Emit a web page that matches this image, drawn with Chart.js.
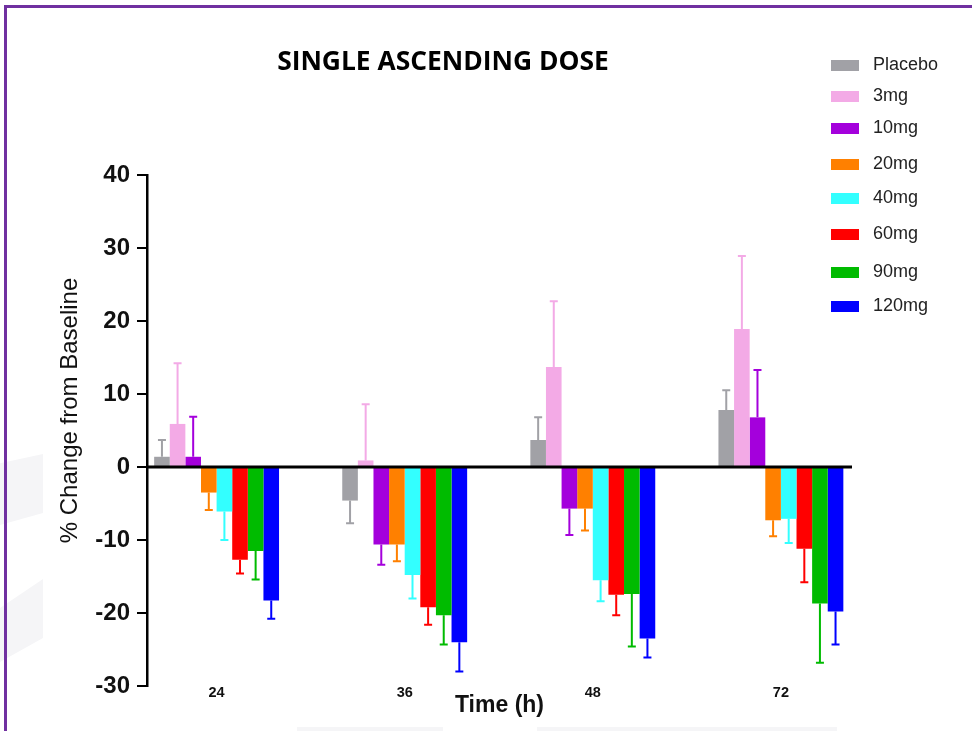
<!DOCTYPE html>
<html>
<head>
<meta charset="utf-8">
<script src="https://cdn.jsdelivr.net/npm/chart.js@4.4.1/dist/chart.umd.min.js"></script>
<style>
body{margin:0;background:#fff;}
#wrap{position:relative;width:972px;height:731px;overflow:hidden;}
#frame{position:absolute;left:4px;top:5px;right:-10px;bottom:-10px;border-top:3px solid #7030a0;border-left:3px solid #7030a0;}
.mark{position:absolute;background:#f5f5f7;}
#title{position:absolute;left:243px;width:400px;top:42px;text-align:center;font:700 26.4px "Open Sans";color:#000;}
#legend{position:absolute;left:831px;top:60px;}
.item{position:absolute;left:0;height:20px;white-space:nowrap;}
.box{position:absolute;left:0;top:0;width:28px;height:11px;}
.lbl{position:absolute;left:42px;top:-6px;font:18px "Liberation Sans";color:#222;}
canvas{position:absolute;left:0;top:0;}
</style>
</head>
<body>
<div id="wrap">
<div class="mark" style="left:0;top:454px;width:43px;height:71px;clip-path:polygon(0 13%,100% 0,100% 83%,0 100%)"></div>
<div class="mark" style="left:0;top:579px;width:43px;height:83px;clip-path:polygon(0 35%,100% 0,100% 71%,0 100%)"></div>
<div class="mark" style="left:297px;top:727px;width:146px;height:6px"></div>
<div class="mark" style="left:537px;top:727px;width:300px;height:6px"></div>
<canvas id="sadChart" width="972" height="731"></canvas>
<div id="frame"></div>
<div id="title">SINGLE ASCENDING DOSE</div>
<div id="legend"></div>
</div>
<script>
const timeLabels = ["24", "36", "48", "72"];
const doseLabels = ["Placebo", "3mg", "10mg", "20mg", "40mg", "60mg", "90mg", "120mg"];
const doseColors = ["#a1a1a6", "#f3aae6", "#a400dc", "#ff8000", "#33ffff", "#ff0000", "#00bb00", "#0000ff"];

// mean % change from baseline, per dose, at 24/36/48/72 h
const placebo = [1.4, -4.6, 3.7, 7.8];
const mg3 = [5.9, 0.9, 13.7, 18.9];
const mg10 = [1.4, -10.6, -5.7, 6.8];
const mg20 = [-3.5, -10.6, -5.7, -7.3];
const mg40 = [-6.1, -14.8, -15.5, -7.1];
const mg60 = [-12.7, -19.2, -17.5, -11.2];
const mg90 = [-11.5, -20.3, -17.4, -18.7];
const mg120 = [-18.3, -24.0, -23.5, -19.8];

// error bar size (one sided, away from zero)
const placeboSd = [2.3, 3.1, 3.1, 2.7];
const mg3Sd = [8.3, 7.7, 9.0, 10.0];
const mg10Sd = [5.5, 2.8, 3.6, 6.5];
const mg20Sd = [2.4, 2.3, 3.0, 2.2];
const mg40Sd = [3.9, 3.2, 2.9, 3.3];
const mg60Sd = [1.9, 2.4, 2.8, 4.6];
const mg90Sd = [3.9, 4.0, 7.2, 8.1];
const mg120Sd = [2.5, 4.0, 2.6, 4.5];

const yTicks = [-30, -20, -10, 0, 10, 20, 30, 40];

const means = [placebo, mg3, mg10, mg20, mg40, mg60, mg90, mg120];
const sds = [placeboSd, mg3Sd, mg10Sd, mg20Sd, mg40Sd, mg60Sd, mg90Sd, mg120Sd];

const datasets = doseLabels.map(function (name, i) {
    return {
        label: name,
        data: means[i].map(function (v, j) { return { x: j, y: v }; }),
        sd: sds[i],
        backgroundColor: doseColors[i],
        borderWidth: 0,
        categoryPercentage: 0.664,
        barPercentage: 1
    };
});

const errorBars = {
    id: 'errorBars',
    afterDatasetsDraw(chart) {
        const ctx = chart.ctx, y = chart.scales.y;
        chart.data.datasets.forEach(function (ds, i) {
            chart.getDatasetMeta(i).data.forEach(function (bar, j) {
                const v = ds.data[j].y, e = ds.sd[j];
                const end = y.getPixelForValue(v >= 0 ? v + e : v - e);
                ctx.save();
                ctx.strokeStyle = ds.backgroundColor;
                ctx.lineWidth = 2;
                ctx.beginPath();
                ctx.moveTo(bar.x, bar.y);
                ctx.lineTo(bar.x, end);
                ctx.moveTo(bar.x - 4, end);
                ctx.lineTo(bar.x + 4, end);
                ctx.stroke();
                ctx.restore();
            });
        });
    }
};

const zeroLine = {
    id: 'zeroLine',
    afterDatasetsDraw(chart) {
        const ctx = chart.ctx, a = chart.chartArea;
        const y0 = chart.scales.y.getPixelForValue(0);
        ctx.save();
        ctx.strokeStyle = '#000';
        ctx.lineWidth = 3;
        ctx.beginPath();
        ctx.moveTo(a.left, y0);
        ctx.lineTo(a.right, y0);
        ctx.stroke();
        ctx.restore();
    }
};

new Chart(document.getElementById('sadChart'), {
    type: 'bar',
    data: { datasets: datasets },
    options: {
        responsive: false,
        animation: false,
        layout: { padding: { left: 50, top: 175, right: 120, bottom: 0 } },
        plugins: { legend: { display: false }, tooltip: { enabled: false } },
        scales: {
            x: {
                type: 'linear',
                min: -0.37,
                max: 3.378,
                bounds: 'data',
                offset: false,
                grid: { display: false, drawTicks: false, offset: false },
                border: { display: false },
                afterBuildTicks: function (s) { s.ticks = [0, 1, 2, 3].map(function (v) { return { value: v }; }); },
                afterFit: function (s) { s.height = 45; },
                ticks: {
                    padding: -2,
                    color: '#111',
                    font: { family: 'Liberation Sans', size: 14.5, weight: 'bold' },
                    callback: function (v) { return timeLabels[v]; }
                },
                title: {
                    display: true,
                    text: 'Time (h)',
                    color: '#111',
                    padding: { top: 0, bottom: 12 },
                    font: { family: 'Liberation Sans', size: 23, weight: 'bold' }
                }
            },
            y: {
                min: -30,
                max: 40,
                afterBuildTicks: function (s) { s.ticks = yTicks.map(function (v) { return { value: v }; }); },
                afterFit: function (s) { s.width = 97; },
                grid: { drawOnChartArea: false, color: '#000', lineWidth: 2, tickLength: 10 },
                border: { display: true, color: '#000', width: 2.5 },
                ticks: {
                    padding: 7,
                    color: '#111',
                    font: { family: 'Liberation Sans', size: 24, weight: 'bold' }
                },
                title: {
                    display: true,
                    text: '      % Change from Baseline',
                    color: '#111',
                    padding: { top: 6, bottom: 0 },
                    font: { family: 'Liberation Sans', size: 24 }
                }
            }
        }
    },
    plugins: [errorBars, zeroLine]
});

// legend rows sit a little unevenly in the original
var legendRowY = [0, 30.7, 63, 98.7, 133.3, 169.3, 207.3, 240.7];
var legend = document.getElementById('legend');
doseLabels.forEach(function (name, i) {
    var item = document.createElement('div');
    item.className = 'item';
    item.style.top = legendRowY[i] + 'px';
    item.innerHTML = '<div class="box" style="background:' + doseColors[i] + '"></div><div class="lbl">' + name + '</div>';
    legend.appendChild(item);
});
</script>
</body>
</html>
